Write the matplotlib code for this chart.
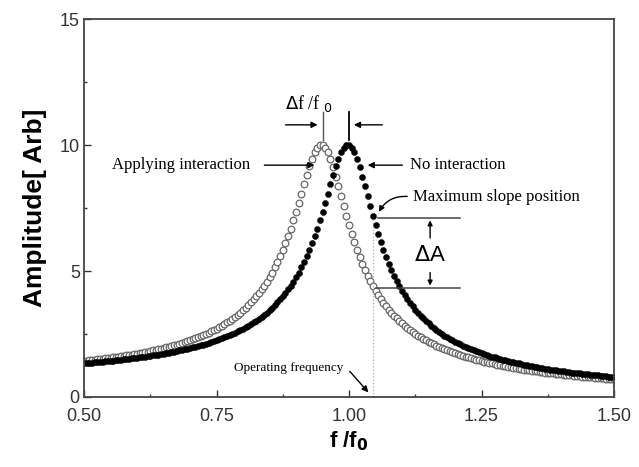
import numpy as np
import matplotlib
matplotlib.use("Agg")
import matplotlib.pyplot as plt

# f/f0 grid (step 0.005) and amplitudes
freq = np.round(np.arange(0.5, 1.5001, 0.005), 3)

amp_no_interaction = [
    1.33, 1.34, 1.35, 1.36, 1.37, 1.38, 1.39, 1.40, 1.41, 1.42,
    1.43, 1.44, 1.45, 1.46, 1.48, 1.49, 1.50, 1.51, 1.53, 1.54,
    1.56, 1.57, 1.59, 1.60, 1.62, 1.63, 1.65, 1.67, 1.68, 1.70,
    1.72, 1.74, 1.76, 1.78, 1.80, 1.82, 1.85, 1.87, 1.89, 1.92,
    1.94, 1.97, 2.00, 2.02, 2.05, 2.08, 2.12, 2.15, 2.18, 2.22,
    2.25, 2.29, 2.33, 2.37, 2.41, 2.46, 2.50, 2.55, 2.60, 2.66,
    2.71, 2.77, 2.83, 2.89, 2.96, 3.03, 3.11, 3.18, 3.27, 3.35,
    3.45, 3.54, 3.65, 3.76, 3.87, 4.00, 4.13, 4.27, 4.42, 4.58,
    4.76, 4.94, 5.14, 5.36, 5.59, 5.83, 6.10, 6.38, 6.68, 7.01,
    7.35, 7.70, 8.07, 8.44, 8.80, 9.15, 9.46, 9.72, 9.90, 10.00,
    10.00, 9.90, 9.71, 9.44, 9.12, 8.75, 8.36, 7.96, 7.57, 7.18,
    6.82, 6.47, 6.14, 5.84, 5.55, 5.29, 5.04, 4.81, 4.60, 4.40,
    4.22, 4.05, 3.89, 3.74, 3.60, 3.47, 3.34, 3.23, 3.12, 3.02,
    2.92, 2.83, 2.74, 2.66, 2.58, 2.51, 2.44, 2.37, 2.31, 2.25,
    2.19, 2.14, 2.09, 2.04, 1.99, 1.94, 1.90, 1.85, 1.81, 1.77,
    1.74, 1.70, 1.66, 1.63, 1.60, 1.57, 1.54, 1.51, 1.48, 1.45,
    1.42, 1.40, 1.37, 1.35, 1.33, 1.30, 1.28, 1.26, 1.24, 1.22,
    1.20, 1.18, 1.16, 1.14, 1.13, 1.11, 1.09, 1.08, 1.06, 1.05,
    1.03, 1.02, 1.00, 0.99, 0.97, 0.96, 0.95, 0.94, 0.92, 0.91,
    0.90, 0.89, 0.88, 0.87, 0.86, 0.84, 0.83, 0.82, 0.81, 0.80,
    0.79,
]

amp_interaction = [
    1.43, 1.44, 1.45, 1.46, 1.48, 1.49, 1.50, 1.51, 1.53, 1.54,
    1.56, 1.57, 1.59, 1.60, 1.62, 1.63, 1.65, 1.67, 1.68, 1.70,
    1.72, 1.74, 1.76, 1.78, 1.80, 1.82, 1.85, 1.87, 1.89, 1.92,
    1.94, 1.97, 2.00, 2.02, 2.05, 2.08, 2.12, 2.15, 2.18, 2.22,
    2.25, 2.29, 2.33, 2.37, 2.41, 2.46, 2.50, 2.55, 2.60, 2.66,
    2.71, 2.77, 2.83, 2.89, 2.96, 3.03, 3.11, 3.18, 3.27, 3.35,
    3.45, 3.54, 3.65, 3.76, 3.87, 4.00, 4.13, 4.27, 4.42, 4.58,
    4.76, 4.94, 5.14, 5.36, 5.59, 5.83, 6.10, 6.38, 6.68, 7.01,
    7.35, 7.70, 8.07, 8.44, 8.80, 9.15, 9.46, 9.72, 9.90, 10.00,
    10.00, 9.90, 9.71, 9.44, 9.12, 8.75, 8.36, 7.96, 7.57, 7.18,
    6.82, 6.47, 6.14, 5.84, 5.55, 5.29, 5.04, 4.81, 4.60, 4.40,
    4.22, 4.05, 3.89, 3.74, 3.60, 3.47, 3.34, 3.23, 3.12, 3.02,
    2.92, 2.83, 2.74, 2.66, 2.58, 2.51, 2.44, 2.37, 2.31, 2.25,
    2.19, 2.14, 2.09, 2.04, 1.99, 1.94, 1.90, 1.85, 1.81, 1.77,
    1.74, 1.70, 1.66, 1.63, 1.60, 1.57, 1.54, 1.51, 1.48, 1.45,
    1.42, 1.40, 1.37, 1.35, 1.33, 1.30, 1.28, 1.26, 1.24, 1.22,
    1.20, 1.18, 1.16, 1.14, 1.13, 1.11, 1.09, 1.08, 1.06, 1.05,
    1.03, 1.02, 1.00, 0.99, 0.97, 0.96, 0.95, 0.94, 0.92, 0.91,
    0.90, 0.89, 0.88, 0.87, 0.86, 0.84, 0.83, 0.82, 0.81, 0.80,
    0.79, 0.79, 0.78, 0.77, 0.76, 0.75, 0.74, 0.73, 0.73, 0.72,
    0.71,
]

f_peak_free = 1.00
f_peak_int = 0.95
f_operating = 1.045
amp_slope_hi = 7.12
amp_slope_lo = 4.31

x_ticks = [0.50, 0.75, 1.00, 1.25, 1.50]
x_ticklabels = ["0.50", "0.75", "1.00", "1.25", "1.50"]
y_ticks = [0, 5, 10, 15]

serif = "Liberation Serif"
sans = "Liberation Sans"

fig = plt.figure(figsize=(6.39, 4.67), dpi=100)
ax = fig.add_axes([0.1315, 0.1499, 0.8294, 0.8094])

ax.plot(freq, amp_interaction, "o", ms=4.8, mfc="white", mec="#666666", mew=0.9)
ax.plot(freq, amp_no_interaction, "o", ms=4.4, mfc="black", mec="black", mew=0.3)

# operating frequency marker
ax.plot([f_operating, f_operating], [0, amp_slope_hi], ls=(0, (1, 2)), color="#999999", lw=0.8)

# delta f / f0 construction
arw = dict(arrowstyle="-|>", color="black", lw=1.0, mutation_scale=9)
ax.plot([f_peak_int, f_peak_int], [10.2, 11.3], color="#555555", lw=1.0)
ax.plot([f_peak_free, f_peak_free], [10.2, 11.3], color="black", lw=1.3)
ax.annotate("", xy=(f_peak_int - 0.004, 10.8), xytext=(f_peak_int - 0.075, 10.8), arrowprops=arw)
ax.annotate("", xy=(f_peak_free + 0.004, 10.8), xytext=(f_peak_free + 0.068, 10.8), arrowprops=arw)
ax.text(0.924, 11.65, r"$\Delta$f /f$_{\ 0}$", family=serif, fontsize=13, ha="center", va="center")

# labels of the two curves
ax.text(0.813, 9.2, "Applying interaction", family=serif, fontsize=12, ha="right", va="center")
ax.annotate("", xy=(0.94, 9.2), xytext=(0.835, 9.2), arrowprops=arw)
ax.text(1.115, 9.2, "No interaction", family=serif, fontsize=12, ha="left", va="center")
ax.annotate("", xy=(1.03, 9.2), xytext=(1.106, 9.2), arrowprops=arw)

# maximum slope and delta A
ax.text(1.12, 7.95, "Maximum slope position", family=serif, fontsize=12, ha="left", va="center")
ax.annotate("", xy=(1.054, 7.25), xytext=(1.115, 7.95),
            arrowprops=dict(arrowstyle="-|>", color="black", lw=1.0, mutation_scale=8,
                            connectionstyle="arc3,rad=0.35"))
ax.plot([1.055, 1.21], [amp_slope_hi, amp_slope_hi], color="#444444", lw=1.1)
ax.plot([1.05, 1.21], [amp_slope_lo, amp_slope_lo], color="#444444", lw=1.1)
ax.annotate("", xy=(1.153, amp_slope_hi), xytext=(1.153, 6.2), arrowprops=dict(arw, mutation_scale=7))
ax.annotate("", xy=(1.153, amp_slope_lo), xytext=(1.153, 5.05), arrowprops=dict(arw, mutation_scale=7))
ax.text(1.153, 5.62, r"$\Delta$A", family=sans, fontsize=16, ha="center", va="center")

ax.text(0.99, 1.15, "Operating frequency", family=serif, fontsize=9.5, ha="right", va="center")
ax.annotate("", xy=(1.04, 0.1), xytext=(0.998, 1.1), arrowprops=arw)

ax.set_xlim(0.5, 1.5)
ax.set_ylim(0, 15)
ax.set_xticks(x_ticks)
ax.set_xticklabels(x_ticklabels)
ax.set_yticks(y_ticks)
ax.set_xticks([0.625, 0.875, 1.125, 1.375], minor=True)
ax.set_yticks([2.5, 7.5, 12.5], minor=True)
ax.tick_params(which="both", direction="in", colors="#333333", width=1.0)
ax.tick_params(which="major", length=5, labelsize=13)
ax.tick_params(axis="x", which="major", pad=8)
ax.tick_params(axis="y", which="major", pad=3)
for lab in ax.get_xticklabels() + ax.get_yticklabels():
    lab.set_family(sans)
    lab.set_color("#333333")
for sp in ax.spines.values():
    sp.set_linewidth(1.3)
    sp.set_color("#444444")

ax.set_ylabel("Amplitude[ Arb]", family=sans, fontsize=19, fontweight="bold", labelpad=9)
ax.set_xlabel(r"f /f$_\mathbf{0}$", family=sans, fontsize=16, fontweight="bold", labelpad=3)

fig.savefig("out.png", dpi=100)
